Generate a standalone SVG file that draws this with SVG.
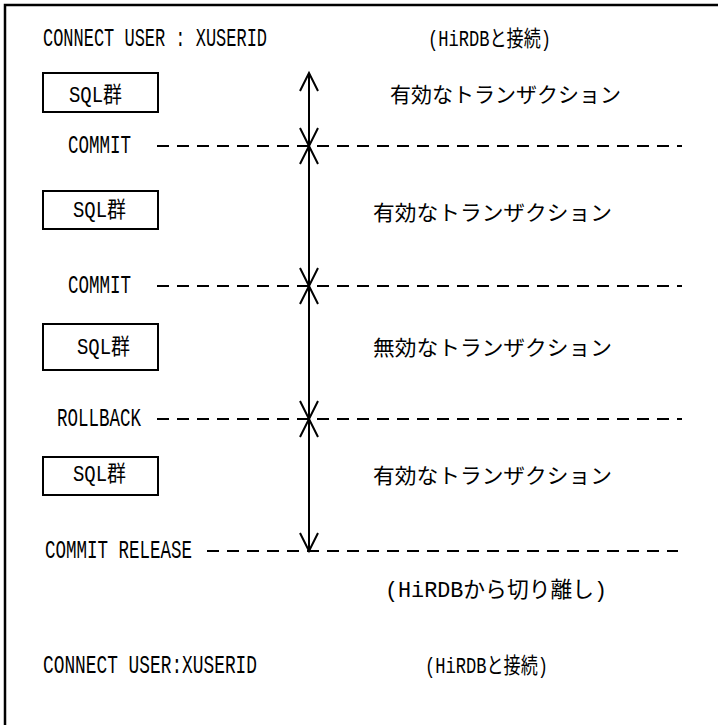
<svg xmlns="http://www.w3.org/2000/svg" xmlns:xlink="http://www.w3.org/1999/xlink" width="718" height="725" viewBox="0 0 718 725">
<style>
.t{font-family:"Liberation Mono","Noto Sans CJK JP",monospace;font-size:25px;fill:#000}
.m{font-family:"Liberation Mono","Noto Sans CJK JP",monospace;font-size:22px;fill:#000}
.j{font-family:"Noto Sans CJK JP",sans-serif;font-size:21px;fill:#000}
.box{fill:#fff;stroke:#000;stroke-width:2}
.ln{stroke:#000;stroke-width:2;fill:none}
.dash{stroke:#000;stroke-width:2;fill:none;stroke-dasharray:12 8}
</style>
<defs>
<path id="ahDown" d="M-9,-18 L0,0 L9,-18" class="ln"/>
<path id="ahUp" d="M-9,18 L0,0 L9,18" class="ln"/>
</defs>
<rect x="5" y="5" width="730" height="740" fill="none" stroke="#000" stroke-width="2.5"/>

<g id="connect1">
<text class="t" x="43" y="46" textLength="224" lengthAdjust="spacingAndGlyphs">CONNECT USER : XUSERID</text>
<text class="m" x="428" y="46" textLength="123" lengthAdjust="spacingAndGlyphs">(HiRDBと接続)</text>
</g>

<g id="sql1"><rect class="box" x="43" y="73" width="115" height="39"/><text class="m" x="69" y="102" textLength="53" lengthAdjust="spacingAndGlyphs">SQL群</text></g>
<g id="sql2"><rect class="box" x="43" y="191" width="115" height="38"/><text class="m" x="73" y="217" textLength="53" lengthAdjust="spacingAndGlyphs">SQL群</text></g>
<g id="sql3"><rect class="box" x="43" y="324" width="115" height="46"/><text class="m" x="77" y="354" textLength="53" lengthAdjust="spacingAndGlyphs">SQL群</text></g>
<g id="sql4"><rect class="box" x="43" y="457" width="115" height="38"/><text class="m" x="73" y="481" textLength="53" lengthAdjust="spacingAndGlyphs">SQL群</text></g>

<g id="commit1"><text class="t" x="68" y="153" textLength="63" lengthAdjust="spacingAndGlyphs">COMMIT</text></g>
<g id="commit2"><text class="t" x="68" y="293" textLength="63" lengthAdjust="spacingAndGlyphs">COMMIT</text></g>
<g id="rollback"><text class="t" x="57" y="426" textLength="84" lengthAdjust="spacingAndGlyphs">ROLLBACK</text></g>
<g id="release"><text class="t" x="45" y="558" textLength="147" lengthAdjust="spacingAndGlyphs">COMMIT RELEASE</text></g>

<g id="tx1"><text class="j" x="390" y="102" textLength="231" lengthAdjust="spacingAndGlyphs">有効なトランザクション</text></g>
<g id="tx2"><text class="j" x="373" y="220" textLength="239" lengthAdjust="spacingAndGlyphs">有効なトランザクション</text></g>
<g id="tx3"><text class="j" x="373" y="355" textLength="239" lengthAdjust="spacingAndGlyphs">無効なトランザクション</text></g>
<g id="tx4"><text class="j" x="373" y="483" textLength="239" lengthAdjust="spacingAndGlyphs">有効なトランザクション</text></g>

<g id="disconnect"><text class="m" x="385" y="597" textLength="222" lengthAdjust="spacingAndGlyphs">(HiRDBから切り離し)</text></g>

<g id="connect2">
<text class="t" x="43" y="673" textLength="214" lengthAdjust="spacingAndGlyphs">CONNECT USER:XUSERID</text>
<text class="m" x="425" y="673" textLength="123" lengthAdjust="spacingAndGlyphs">(HiRDBと接続)</text>
</g>

<g id="connectors">
<line class="dash" x1="157" y1="146" x2="682" y2="146"/>
<line class="dash" x1="157" y1="286" x2="682" y2="286"/>
<line class="dash" x1="157" y1="419" x2="682" y2="419"/>
<line class="dash" x1="207" y1="551" x2="678" y2="551"/>
<line class="ln" x1="309" y1="73" x2="309" y2="551"/>
<use xlink:href="#ahUp" x="309" y="73"/>
<use xlink:href="#ahDown" x="309" y="146"/>
<use xlink:href="#ahUp" x="309" y="146"/>
<use xlink:href="#ahDown" x="309" y="286"/>
<use xlink:href="#ahUp" x="309" y="286"/>
<use xlink:href="#ahDown" x="309" y="419"/>
<use xlink:href="#ahUp" x="309" y="419"/>
<use xlink:href="#ahDown" x="309" y="551"/>
</g>
</svg>
